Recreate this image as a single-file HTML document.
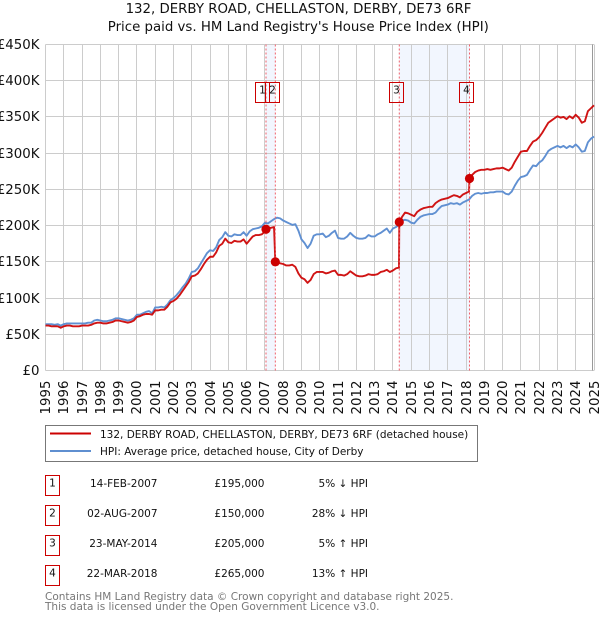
<!DOCTYPE html>
<html lang="en">
<head>
<meta charset="utf-8">
<title>132, Derby Road price chart</title>
<style>
html,body{margin:0;padding:0;background:#fff;width:600px;height:620px;overflow:hidden}
svg{display:block}
text{font-family:"DejaVu Sans","Liberation Sans",sans-serif;fill:#111}
</style>
</head>
<body>
<svg id="chart" xmlns="http://www.w3.org/2000/svg" width="600" height="620" viewBox="0 0 600 620">
  <text x="298.5" y="13" font-size="13.33" text-anchor="middle">132, DERBY ROAD, CHELLASTON, DERBY, DE73 6RF</text>
  <text x="298.3" y="31" font-size="13.33" text-anchor="middle">Price paid vs. HM Land Registry's House Price Index (HPI)</text>
  <g id="plot"></g>

  <g>
    <rect x="45.5" y="425.5" width="432" height="36" fill="#fff" stroke="#777" stroke-width="1"/>
    <line x1="50" x2="91" y1="433.5" y2="433.5" stroke="#cc0000" stroke-width="2"/>
    <text x="100" y="438" font-size="10.5">132, DERBY ROAD, CHELLASTON, DERBY, DE73 6RF (detached house)</text>
    <line x1="50" x2="91" y1="451" y2="451" stroke="#5f8fd0" stroke-width="2"/>
    <text x="100" y="455" font-size="10.5">HPI: Average price, detached house, City of Derby</text>
  </g>

  <g font-size="10.5">
    <g>
      <rect x="45.5" y="475.5" width="14" height="20" fill="#fff" stroke="#cc0000"/>
      <text x="52.5" y="486.5" text-anchor="middle">1</text>
      <text x="157.5" y="487" text-anchor="end">14-FEB-2007</text>
      <text x="264.5" y="487" text-anchor="end">£195,000</text>
      <text x="368" y="487" text-anchor="end">5% ↓ HPI</text>
    </g>
    <g>
      <rect x="45.5" y="505.5" width="14" height="20" fill="#fff" stroke="#cc0000"/>
      <text x="52.5" y="516.5" text-anchor="middle">2</text>
      <text x="157.5" y="517" text-anchor="end">02-AUG-2007</text>
      <text x="264.5" y="517" text-anchor="end">£150,000</text>
      <text x="368" y="517" text-anchor="end">28% ↓ HPI</text>
    </g>
    <g>
      <rect x="45.5" y="535.5" width="14" height="20" fill="#fff" stroke="#cc0000"/>
      <text x="52.5" y="546.5" text-anchor="middle">3</text>
      <text x="157.5" y="547" text-anchor="end">23-MAY-2014</text>
      <text x="264.5" y="547" text-anchor="end">£205,000</text>
      <text x="368" y="547" text-anchor="end">5% ↑ HPI</text>
    </g>
    <g>
      <rect x="45.5" y="565.5" width="14" height="20" fill="#fff" stroke="#cc0000"/>
      <text x="52.5" y="576.5" text-anchor="middle">4</text>
      <text x="157.5" y="577" text-anchor="end">22-MAR-2018</text>
      <text x="264.5" y="577" text-anchor="end">£265,000</text>
      <text x="368" y="577" text-anchor="end">13% ↑ HPI</text>
    </g>
  </g>

  <text x="45" y="600" font-size="10.5" style="fill:#777">Contains HM Land Registry data © Crown copyright and database right 2025.</text>
  <text x="45" y="610" font-size="10.5" style="fill:#777">This data is licensed under the Open Government Licence v3.0.</text>
</svg>
<script>
// Chart data: prices in £ thousands, six samples per year starting 1995
var yearLabels = [1995,1996,1997,1998,1999,2000,2001,2002,2003,2004,2005,2006,2007,2008,2009,2010,2011,2012,2013,2014,2015,2016,2017,2018,2019,2020,2021,2022,2023,2024,2025];
var priceTicks = [0,50,100,150,200,250,300,350,400,450];
var priceTickLabels = ['£0','£50K','£100K','£150K','£200K','£250K','£300K','£350K','£400K','£450K'];
var hpiValues = [
 64,64,64,63,64,62,
 64,65,65,65,65,65,
 65,65,66,66,69,70,
 69,68,68,69,70,72,
 72,71,70,69,70,72,
 77,77,79,81,82,79,
 87,87,88,87,91,97,
 100,104,109,115,120,127,
 136,137,141,148,155,162,
 166,165,170,180,184,191,
 186,185,188,187,187,191,
 186,192,195,196,197,199,
 204,203,206,209,211,210,
 207,205,203,201,202,193,
 181,176,169,175,186,188,
 188,189,184,186,190,193,
 183,182,182,185,190,186,
 183,182,182,183,187,185,
 185,188,190,193,196,190,
 196,198,201,207,208,207,
 204,203,208,212,214,215,
 216,216,218,223,227,228,
 229,231,230,231,229,232,
 234,236,241,244,245,244,
 245,245,246,246,247,247,
 247,244,243,247,255,262,
 267,268,270,277,283,282,
 287,290,296,303,306,308,
 310,308,310,307,310,308,
 312,308,302,303,315,320,
 323
];
var paidValues = [
 62,62,61,61,61,59,
 61,62,62,61,61,61,
 62,62,62,63,65,66,
 66,65,65,66,67,69,
 69,68,67,66,67,69,
 74,75,77,78,78,77,
 83,83,84,84,88,94,
 96,99,104,110,116,122,
 130,131,134,140,147,153,
 157,157,163,172,175,182,
 177,176,179,178,178,181,
 175,180,185,187,187,188,
 192,196,197,198,149,148,
 147,145,145,146,143,134,
 128,126,121,125,133,136,
 136,136,134,135,137,138,
 132,132,131,133,137,134,
 131,130,130,131,133,132,
 132,133,136,137,139,136,
 138,141,142,212,218,217,
 215,213,219,222,224,225,
 226,226,231,234,236,237,
 238,240,242,241,239,243,
 245,247,270,274,276,277,
 277,278,277,278,279,279,
 280,278,276,280,288,295,
 302,303,303,310,316,318,
 322,328,335,342,345,348,
 351,349,350,347,351,348,
 353,349,342,344,358,362,
 366
];
var saleDates = [2007.06,2007.57,2014.35,2018.19];
var salePrices = [195,150,205,265];
var saleLabels = ['1','2','3','4'];

var NS = 'http://www.w3.org/2000/svg';
var plot = document.getElementById('plot');
var LEFT = 45.5, RIGHT = 594, TOP = 44.5, BOTTOM = 370.5;
function xScale(year){ return LEFT + (year - 1995) * (RIGHT - LEFT) / 30; }
function yScale(k){ return BOTTOM - k * (BOTTOM - TOP) / 450; }
function snap(v){ return Math.floor(v) + 0.5; }
function make(tag, attrs, parent){
  var el = document.createElementNS(NS, tag);
  for (var k in attrs) el.setAttribute(k, attrs[k]);
  (parent || plot).appendChild(el);
  return el;
}
function drawBands(){
  [[0,1],[2,3]].forEach(function(p){
    var a = xScale(saleDates[p[0]]), b = xScale(saleDates[p[1]]);
    var el = make('rect', {x:a, y:TOP, width:b-a, height:BOTTOM-TOP, fill:'#f2f6fe'});
    
    
  });
}
function drawGrid(){
  yearLabels.forEach(function(y){
    var x = snap(xScale(y));
    var el = make('line', {x1:x, x2:x, y1:TOP, y2:BOTTOM, stroke:'#ccc', 'stroke-width':1});
    
    
    var t = make('text', {'font-size':13.33, transform:'translate(' + (x + 4.5) + ',414.5) rotate(-90)'});
    
    
    t.textContent = y;
  });
  priceTicks.forEach(function(v, i){
    var y = snap(yScale(v));
    var el = make('line', {x1:LEFT, x2:RIGHT, y1:y, y2:y, stroke:'#ccc', 'stroke-width':1});
    
    
    var t = make('text', {x:39.5, y:y + 4.5, 'font-size':13.33, 'text-anchor':'end'});
    
    
    t.textContent = priceTickLabels[i];
  });
  var e = make('line', {x1:592.5, x2:592.5, y1:TOP, y2:BOTTOM, stroke:'#999', 'stroke-width':1});
  
  
}
function drawLines(){
  var hpi = hpiValues.map(function(v, i){ return [1995 + i / 6, v]; });
  var paid = paidValues.map(function(v, i){ return [1995 + i / 6, v]; });
  saleDates.forEach(function(d, i){ paid.push([d, salePrices[i]]); });
  paid.sort(function(a, b){ return a[0] - b[0]; });
  function pathOf(pts){
    return pts.map(function(p, i){
      return (i ? 'L' : 'M') + xScale(p[0]).toFixed(2) + ' ' + yScale(p[1]).toFixed(2);
    }).join('');
  }
  var b = make('path', {d:pathOf(hpi), fill:'none', stroke:'#6090d2', 'stroke-width':1.9, 'stroke-linejoin':'round'});
  
  
  var r = make('path', {d:pathOf(paid), fill:'none', stroke:'#cc0000', 'stroke-width':1.9, 'stroke-linejoin':'round', 'stroke-opacity':0.92});
  
  
}
function drawSales(){
  saleDates.forEach(function(d, i){
    var x = xScale(d);
    var v = make('line', {x1:x, x2:x, y1:TOP, y2:BOTTOM, stroke:'#f0606a', 'stroke-width':1, 'stroke-dasharray':'2 2'});
    
    
  });
  saleDates.forEach(function(d, i){
    var x = xScale(d);
    var c = make('circle', {cx:x, cy:yScale(salePrices[i]), r:4.6, fill:'#cc0000'});
    
    
    var left = Math.floor(x - 10) + 0.5;
    var box = make('rect', {x:left, y:82.5, width:14, height:20, fill:'none', stroke:'#cc0000', 'stroke-width':1});
    
    
    var t = make('text', {x:left + 7, y:93.5, 'font-size':10.5, 'text-anchor':'middle'});
    
    
    t.textContent = saleLabels[i];
  });
}
drawBands();
drawGrid();
drawLines();
drawSales();
</script>
</body>
</html>
